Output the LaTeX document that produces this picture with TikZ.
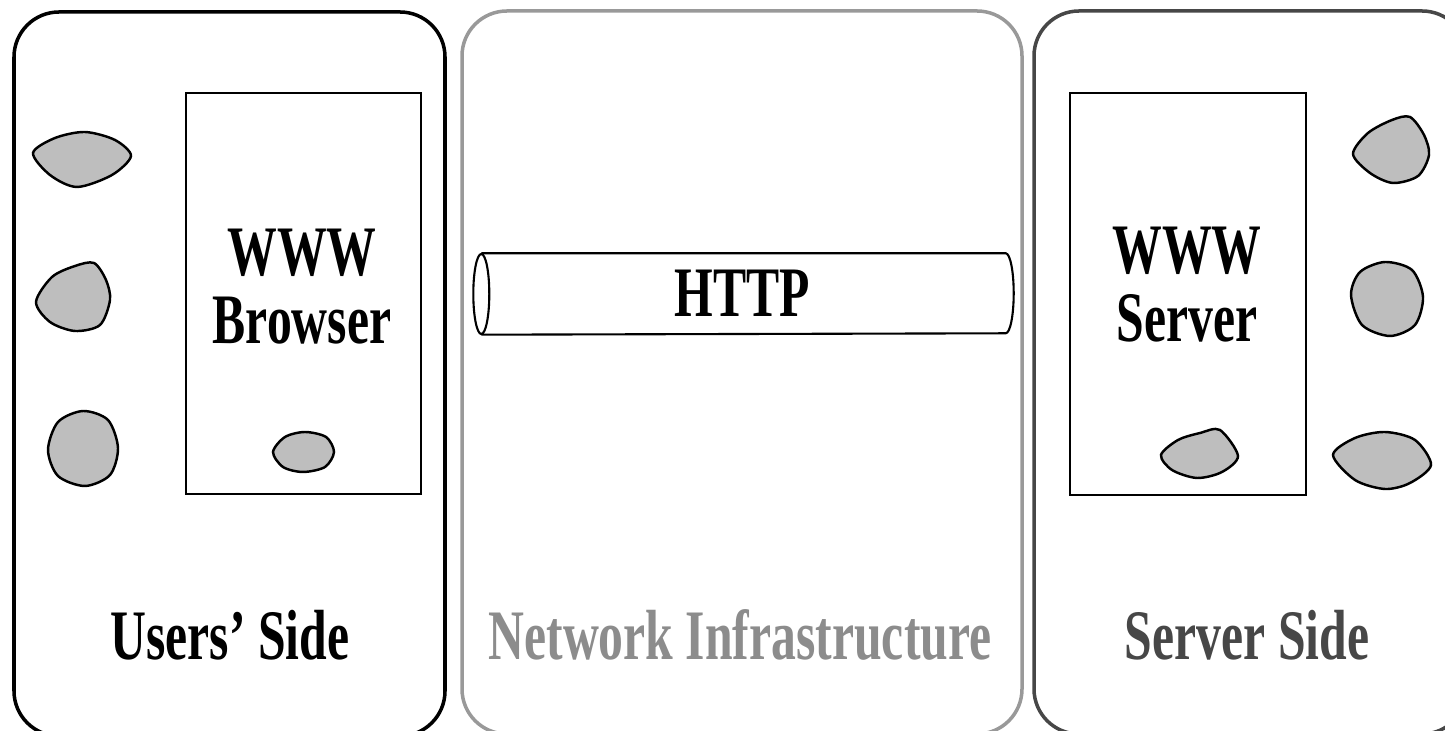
\documentclass[tikz,border=0pt]{standalone}
\usepackage{fontspec}
\newfontfamily\lblfont[FakeStretch=0.7]{Liberation Serif}
\definecolor{netgray}{HTML}{999999}
\definecolor{nettext}{HTML}{8C8C8C}
\definecolor{srvgray}{HTML}{474747}
\definecolor{blobgray}{HTML}{BEBEBE}
\tikzset{
  panel/.style={draw, rounded corners=4.5mm, line width=1pt, inner sep=0pt},
  appbox/.style={draw, line width=0.7pt, inner sep=0pt},
  bigtext/.style={font=\lblfont\bfseries\fontsize{20.2}{19.4}\selectfont, inner sep=0pt, align=center},
  blob/.style={draw, line width=0.7pt, fill=blobgray}
}

\begin{document}
\begin{tikzpicture}[x=0.1mm, y=-0.1mm]
            \useasboundingbox (0,0) rectangle (1445,731);
            % three sides
            \node[panel, minimum width=43.1mm, minimum height=72.4mm] (users) at (229.5,374) {};
            \node[panel, netgray, minimum width=56mm, minimum height=72.3mm] (network) at (742,372.5) {};
            \node[panel, srvgray, minimum width=43.3mm, minimum height=72.3mm] (serverside) at (1250.5,372.5) {};
            \node[bigtext, anchor=base] (usersLabel) at (230,660) {Users’ Side};
            \node[bigtext, anchor=base, nettext] (networkLabel) at (740,660) {Network Infrastructure};
            \node[bigtext, anchor=base, srvgray] (serverLabel) at (1247,660) {Server Side};
            % browser and server boxes
            \node[appbox, minimum width=23.5mm, minimum height=40.1mm] (browser) at (303.5,293.5) {};
            \node[appbox, minimum width=23.6mm, minimum height=40.2mm] (server) at (1188,294) {};
            \node[bigtext] (browserText) at (302,287) {WWW\\Browser};
            \node[bigtext] (serverText) at (1187,285) {WWW\\Server};
            % the pipe
            \node[inner sep=0pt, minimum width=52.3mm, minimum height=8mm] (http) at (743.5,294) {};
            \node[bigtext] (httpText) at (742,293) {HTTP};
            \draw[line width=0.6pt] (http.north west) -- (http.north east)
                arc[start angle=-90, end angle=90, x radius=8, y radius=40] -- (http.south west);
            \draw[line width=0.6pt] (http.west) ellipse[x radius=8, y radius=40];
            % blobs
            \draw[blob] plot[smooth cycle] coordinates {(33,153) (55,138) (85,132) (115,140) (131,156) (112,175) (77,187) (50,175)};
            \draw[blob] plot[smooth cycle] coordinates {(36,302) (52,277) (75,266) (94,263) (106,280) (110,300) (100,325) (75,331) (50,322)};
            \draw[blob] plot[smooth cycle] coordinates {(48,450) (58,422) (83,411) (108,420) (118,448) (110,475) (85,486) (58,476)};
            \draw[blob] plot[smooth cycle] coordinates {(273,452) (285,437) (305,432) (326,437) (334,452) (325,467) (303,472) (283,467)};
            \draw[blob] plot[smooth cycle] coordinates {(1353,154) (1368,133) (1392,120) (1410,117) (1424,135) (1429,155) (1418,176) (1393,183) (1370,173)};
            \draw[blob] plot[smooth cycle] coordinates {(1351,295) (1360,272) (1385,262) (1412,270) (1423,297) (1415,325) (1390,336) (1362,325)};
            \draw[blob] plot[smooth cycle] coordinates {(1333,455) (1355,438) (1385,432) (1415,440) (1431,465) (1410,483) (1385,489) (1355,480)};
            \draw[blob] plot[smooth cycle] coordinates {(1161,455) (1178,440) (1200,433) (1220,430) (1238,456) (1222,472) (1197,478) (1172,470)};
        \end{tikzpicture}
\end{document}
